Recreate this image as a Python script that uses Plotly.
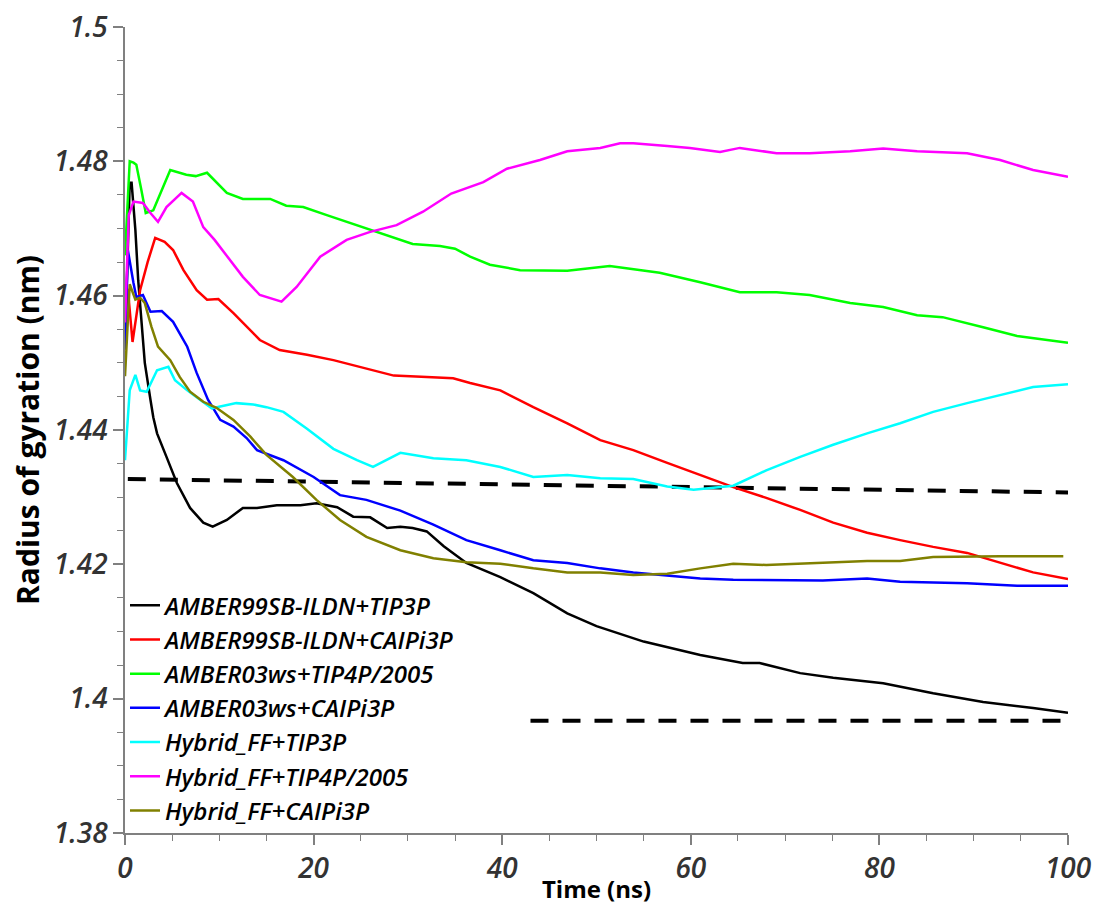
import plotly.graph_objects as go

# Radius of gyration traces (time in ns, Rg in nm)
t_a99_tip3p = [0.0, 0.5, 0.7, 1.1, 1.4, 1.8, 2.1, 2.7, 3.0, 3.4, 4.0, 4.4, 5.5, 6.9, 8.3, 9.3, 10.8,
               12.5, 14.0, 16.1, 18.6, 20.3, 22.5, 24.2, 26.0, 27.8, 29.2, 30.5, 32.0, 33.8, 36.2,
               39.8, 43.3, 46.9, 50.0, 55.0, 61.0, 65.5, 67.3, 71.6, 75.1, 80.4, 85.7, 91.0, 96.3, 100]
rg_a99_tip3p = [1.4520, 1.4768, 1.4768, 1.4698, 1.4623, 1.4559, 1.4500, 1.4445, 1.4419, 1.4395, 1.4375,
                1.4360, 1.4321, 1.4284, 1.4262, 1.4256, 1.4266, 1.4284, 1.4284, 1.4288, 1.4288, 1.4291,
                1.4285, 1.4271, 1.4270, 1.4254, 1.4256, 1.4254, 1.4249, 1.4227, 1.4202, 1.4181, 1.4157,
                1.4127, 1.4108, 1.4085, 1.4065, 1.4053, 1.4053, 1.4038, 1.4031, 1.4023, 1.4008, 1.3995,
                1.3986, 1.3979]

t_a99_caipi = [0.0, 0.3, 0.8, 1.6, 2.4, 3.2, 4.2, 5.1, 6.2, 7.6, 8.7, 9.9, 11.5, 14.3, 16.4, 19.3,
               22.1, 24.9, 28.5, 32.0, 34.8, 36.6, 39.8, 43.3, 46.9, 50.4, 53.9, 57.5, 61.0, 64.5,
               68.0, 71.6, 75.1, 78.7, 82.2, 85.7, 89.3, 92.8, 96.3, 100]
rg_a99_caipi = [1.4570, 1.4610, 1.4531, 1.4608, 1.4650, 1.4686, 1.4680, 1.4668, 1.4638, 1.4608, 1.4594,
                1.4595, 1.4574, 1.4534, 1.4519, 1.4512, 1.4504, 1.4494, 1.4481, 1.4479, 1.4477, 1.4470,
                1.4459, 1.4434, 1.4410, 1.4385, 1.4370, 1.4351, 1.4333, 1.4315, 1.4299, 1.4281, 1.4262,
                1.4247, 1.4236, 1.4226, 1.4217, 1.4202, 1.4188, 1.4178]

t_a03_tip4p = [0.0, 0.2, 0.5, 0.9, 1.2, 1.7, 2.2, 3.0, 4.0, 4.8, 6.5, 7.5, 8.7, 10.8, 12.5, 15.4,
               17.1, 18.9, 21.4, 23.9, 26.0, 28.0, 30.5, 33.4, 35.0, 36.6, 38.7, 41.9, 46.9, 51.4,
               56.7, 61.0, 65.2, 69.1, 72.6, 76.9, 80.4, 84.0, 86.7, 91.0, 94.6, 100]
rg_a03_tip4p = [1.4660, 1.4713, 1.4800, 1.4798, 1.4795, 1.4760, 1.4723, 1.4727, 1.4760, 1.4787, 1.4780,
                1.4778, 1.4783, 1.4753, 1.4744, 1.4744, 1.4734, 1.4732, 1.4720, 1.4708, 1.4698, 1.4688,
                1.4677, 1.4674, 1.4670, 1.4658, 1.4646, 1.4638, 1.4637, 1.4644, 1.4634, 1.4620, 1.4605,
                1.4605, 1.4601, 1.4589, 1.4583, 1.4571, 1.4568, 1.4553, 1.4540, 1.4530]

t_a03_caipi = [0.0, 0.3, 0.9, 1.2, 1.9, 2.7, 3.9, 5.1, 6.6, 7.6, 8.8, 10.1, 11.5, 12.9, 14.0, 16.8,
               20.0, 22.8, 25.6, 29.2, 32.7, 36.2, 39.8, 43.3, 46.9, 50.4, 53.9, 57.5, 61.0, 64.5,
               70.0, 74.0, 78.7, 82.2, 89.3, 94.6, 100]
rg_a03_caipi = [1.4520, 1.4668, 1.4619, 1.4598, 1.4601, 1.4576, 1.4577, 1.4561, 1.4524, 1.4485, 1.4445,
                1.4415, 1.4405, 1.4388, 1.4370, 1.4355, 1.4330, 1.4303, 1.4296, 1.4280, 1.4259, 1.4236,
                1.4221, 1.4206, 1.4202, 1.4194, 1.4188, 1.4184, 1.4179, 1.4177, 1.4177, 1.4176, 1.4179,
                1.4174, 1.4172, 1.4168, 1.4168]

t_hyb_tip3p = [0.0, 0.5, 1.1, 1.6, 2.3, 3.4, 4.6, 5.3, 6.6, 8.0, 9.2, 10.1, 11.8, 13.6, 15.0, 16.8,
               19.3, 22.1, 24.6, 26.3, 28.0, 29.2, 32.7, 36.2, 39.8, 43.3, 46.9, 50.4, 53.9, 57.5,
               60.3, 62.8, 64.5, 68.0, 71.6, 75.1, 78.7, 82.2, 85.7, 89.3, 92.8, 96.3, 100]
rg_hyb_tip3p = [1.4355, 1.4459, 1.4482, 1.4459, 1.4457, 1.4489, 1.4494, 1.4474, 1.4459, 1.4445, 1.4432,
                1.4435, 1.4440, 1.4438, 1.4434, 1.4427, 1.4402, 1.4372, 1.4355, 1.4345, 1.4358, 1.4366,
                1.4358, 1.4355, 1.4345, 1.4330, 1.4333, 1.4328, 1.4327, 1.4316, 1.4311, 1.4314, 1.4317,
                1.4340, 1.4360, 1.4378, 1.4395, 1.4410, 1.4427, 1.4440, 1.4452, 1.4464, 1.4468]

t_hyb_tip4p = [0.0, 0.4, 0.9, 1.9, 2.7, 3.5, 4.4, 6.0, 7.2, 8.3, 9.5, 11.1, 12.5, 14.3, 16.6, 18.2,
               20.7, 23.5, 26.0, 28.8, 31.6, 34.6, 38.0, 40.5, 44.0, 46.9, 50.4, 52.5, 53.9, 57.5,
               59.9, 63.1, 65.2, 69.1, 72.6, 76.9, 80.4, 84.0, 89.3, 92.8, 96.3, 100]
rg_hyb_tip4p = [1.4560, 1.4720, 1.4740, 1.4738, 1.4723, 1.4710, 1.4732, 1.4753, 1.4740, 1.4702, 1.4683,
                1.4653, 1.4628, 1.4601, 1.4591, 1.4613, 1.4658, 1.4683, 1.4695, 1.4705, 1.4725, 1.4752,
                1.4769, 1.4789, 1.4802, 1.4815, 1.4820, 1.4827, 1.4827, 1.4823, 1.4820, 1.4814, 1.4820,
                1.4812, 1.4812, 1.4815, 1.4819, 1.4815, 1.4812, 1.4802, 1.4787, 1.4777]

t_hyb_caipi = [0.0, 0.5, 1.1, 1.6, 2.1, 2.8, 3.5, 4.8, 5.8, 6.9, 8.3, 9.7, 11.5, 13.3, 15.0, 17.8,
               20.3, 22.8, 25.6, 29.2, 32.7, 36.2, 39.8, 43.3, 46.9, 50.4, 53.9, 57.5, 61.0, 64.5,
               68.0, 71.6, 75.1, 78.7, 82.2, 85.7, 92.8, 99.5]
rg_hyb_caipi = [1.4480, 1.4617, 1.4594, 1.4597, 1.4589, 1.4554, 1.4524, 1.4504, 1.4479, 1.4457, 1.4442,
                1.4433, 1.4415, 1.4390, 1.4363, 1.4330, 1.4296, 1.4266, 1.4241, 1.4221, 1.4209, 1.4203,
                1.4201, 1.4194, 1.4188, 1.4188, 1.4184, 1.4186, 1.4194, 1.4201, 1.4199, 1.4201, 1.4203,
                1.4205, 1.4205, 1.4211, 1.4212, 1.4212]

# Dashed reference levels
ref_upper_t = [0.3, 100]
ref_upper_rg = [1.4327, 1.4307]
ref_lower_t = [43, 100]
ref_lower_rg = [1.3967, 1.3967]

series_names = ["AMBER99SB-ILDN+TIP3P", "AMBER99SB-ILDN+CAIPi3P", "AMBER03ws+TIP4P/2005",
                "AMBER03ws+CAIPi3P", "Hybrid_FF+TIP3P", "Hybrid_FF+TIP4P/2005", "Hybrid_FF+CAIPi3P"]
series_colors = ["#000000", "#ff0000", "#00ff00", "#0000ff", "#00ffff", "#ff00ff", "#808000"]
series_t = [t_a99_tip3p, t_a99_caipi, t_a03_tip4p, t_a03_caipi, t_hyb_tip3p, t_hyb_tip4p, t_hyb_caipi]
series_rg = [rg_a99_tip3p, rg_a99_caipi, rg_a03_tip4p, rg_a03_caipi, rg_hyb_tip3p, rg_hyb_tip4p, rg_hyb_caipi]

y_tickvals = [1.38, 1.40, 1.42, 1.44, 1.46, 1.48, 1.50]
y_ticktext = ["1.38", "1.4", "1.42", "1.44", "1.46", "1.48", "1.5"]
x_tickvals = [0, 20, 40, 60, 80, 100]

FONT = "Open Sans"
fig = go.Figure()

# Reference lines drawn first so the data traces sit on top
for tx, ry in [(ref_upper_t, ref_upper_rg), (ref_lower_t, ref_lower_rg)]:
    fig.add_trace(go.Scatter(x=tx, y=ry, mode="lines", showlegend=False, hoverinfo="skip",
                             line=dict(color="#000000", width=4, dash="18px,14px")))

for name, color, tx, ry in zip(series_names, series_colors, series_t, series_rg):
    fig.add_trace(go.Scatter(x=tx, y=ry, mode="lines", name=name,
                             line=dict(color=color, width=2.5)))

axis_common = dict(
    automargin=False,
    showgrid=False, zeroline=False, showline=True, linecolor="#808080", linewidth=1.5,
    ticks="outside", ticklen=10, tickwidth=1.5, tickcolor="#808080",
    tickfont=dict(family=FONT, size=28, color="#333333", style="italic", weight=600),
    minor=dict(ticks="outside", ticklen=6, tickwidth=1.2, tickcolor="#808080"),
)

fig.update_xaxes(range=[0, 100], tickvals=x_tickvals, minor_dtick=5,
                 title=dict(text="Time (ns)", standoff=4,
                            font=dict(family=FONT, size=24, color="#000000", weight=700)),
                 **axis_common)
fig.update_yaxes(range=[1.38, 1.5], tickvals=y_tickvals, ticktext=y_ticktext, minor_dtick=0.005,
                 title=dict(text="Radius of gyration (nm)", standoff=5,
                            font=dict(family=FONT, size=30, color="#000000", weight=700)),
                 **axis_common)

fig.update_layout(
    width=1099, height=905,
    margin=dict(l=125, r=31, t=27, b=72),
    paper_bgcolor="#ffffff", plot_bgcolor="#ffffff",
    showlegend=True,
    legend=dict(x=0.0, y=0.31, xanchor="left", yanchor="top", bgcolor="rgba(0,0,0,0)",
                itemwidth=30,
                font=dict(family=FONT, size=24, color="#000000", style="italic", weight=600)),
)

fig.write_html("out.html")
